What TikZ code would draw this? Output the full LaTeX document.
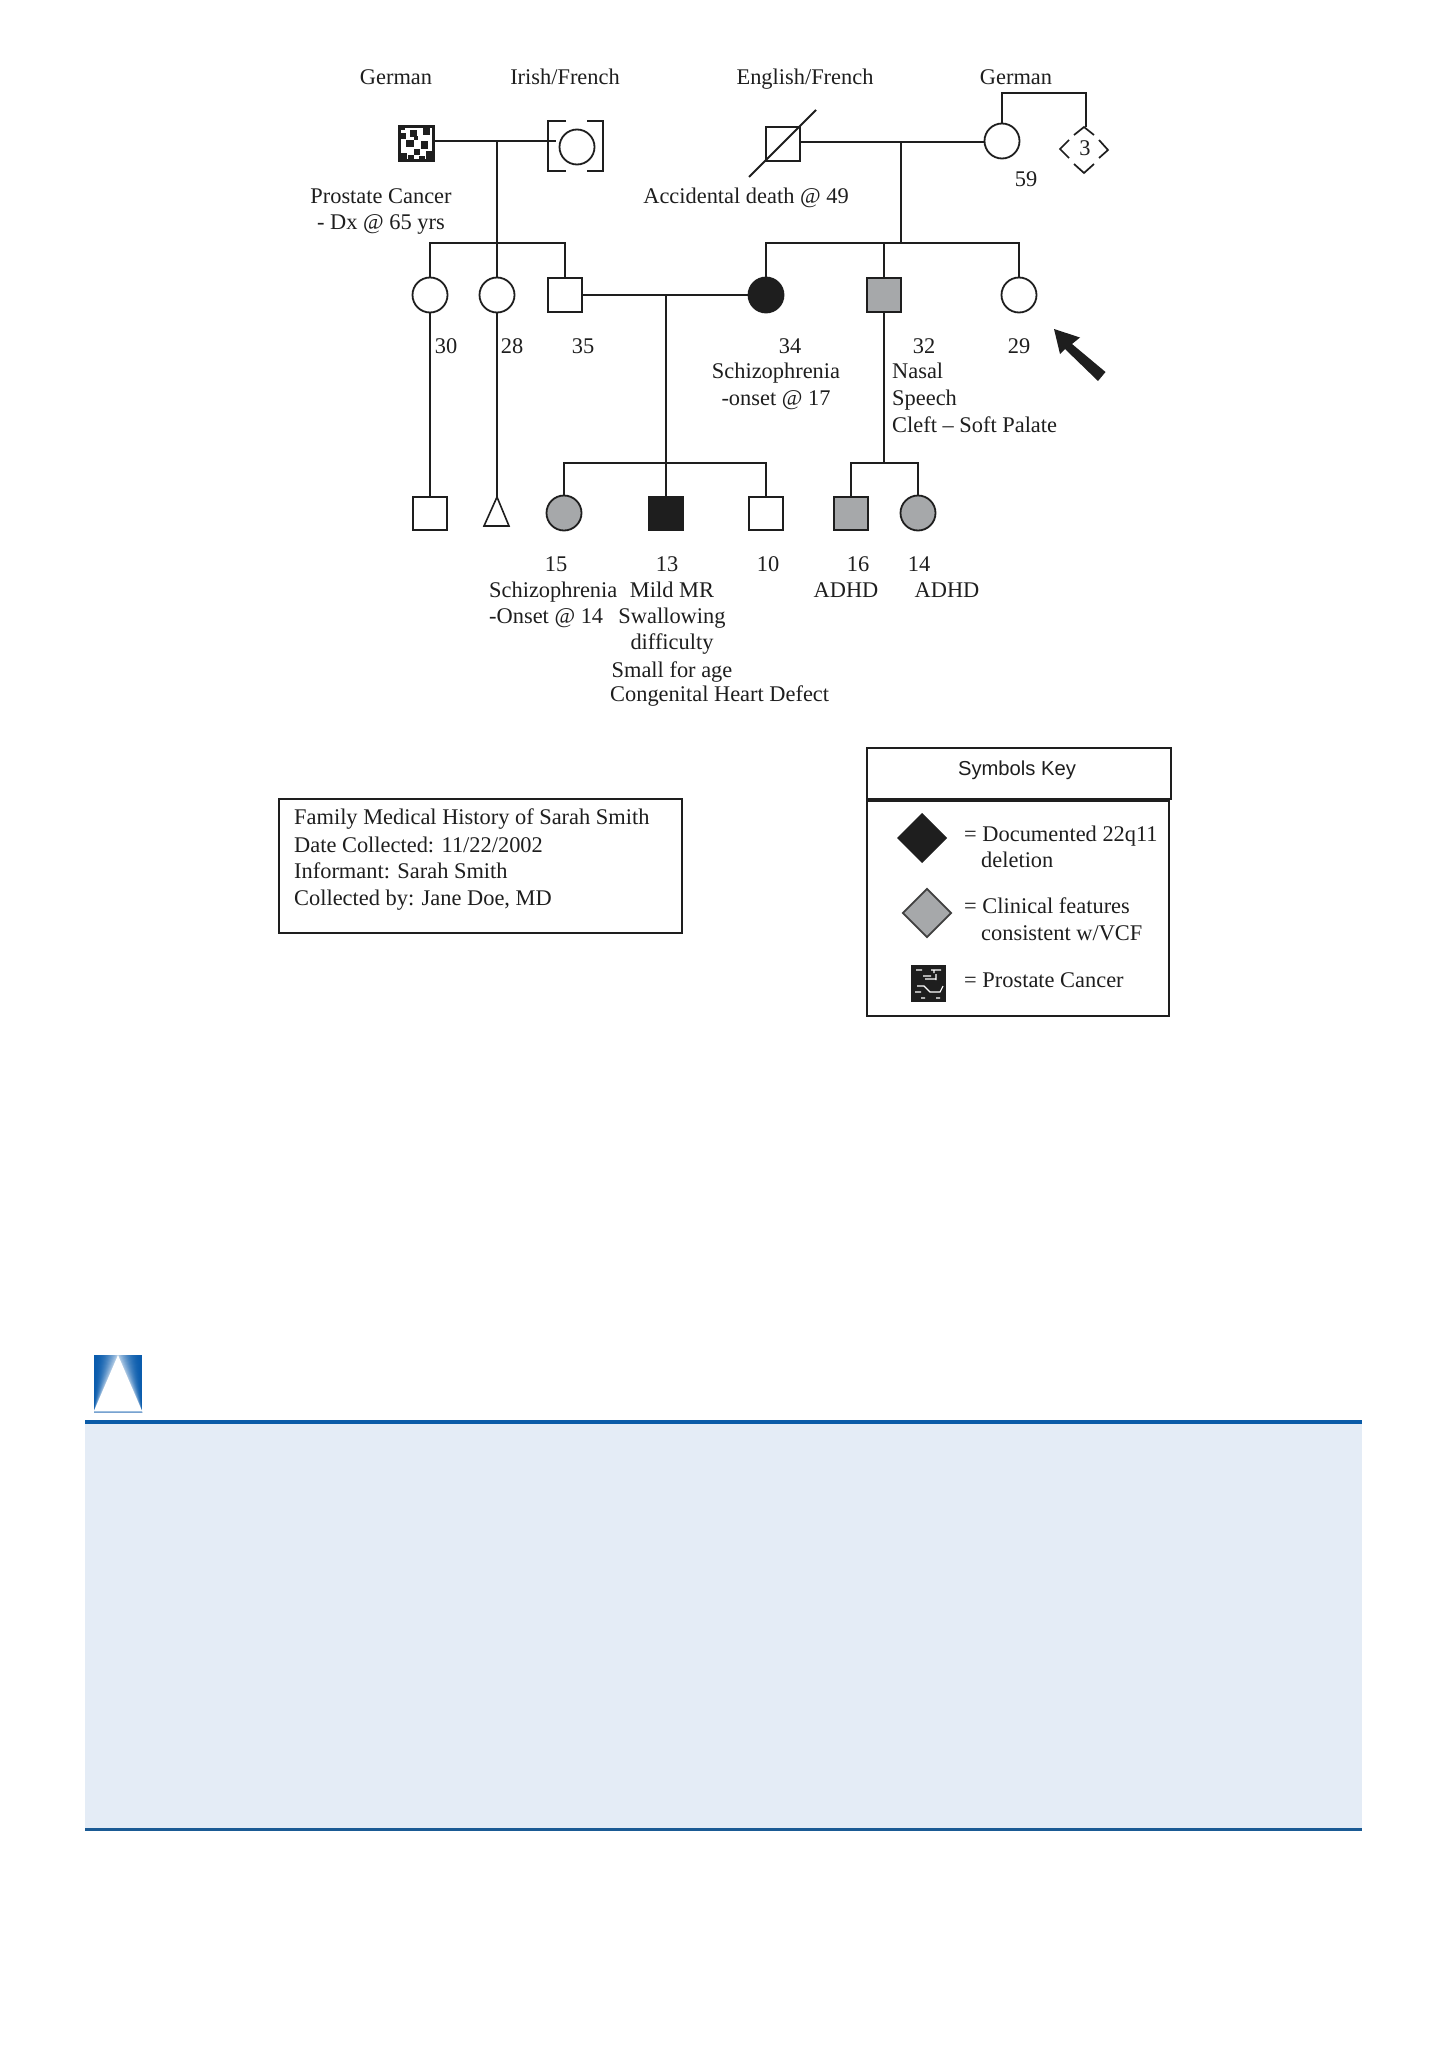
\documentclass[tikz,border=0pt]{standalone}
\usepackage{fontspec}
\setmainfont{Liberation Serif}
\setsansfont{Liberation Sans}
\definecolor{ink}{HTML}{1E1E1E}
\definecolor{midgray}{HTML}{A6A8AA}
\definecolor{panelfill}{HTML}{E4ECF6}
\definecolor{ruletop}{HTML}{0A5BA8}
\definecolor{rulebot}{HTML}{1A5A94}
\definecolor{iconblue}{HTML}{0A5CAD}
\usetikzlibrary{shapes.geometric}
\tikzset{
  lin/.style={draw=ink,line width=2.1pt},
  sq/.style={rectangle,draw=ink,fill=white,line width=2pt,minimum size=34pt,inner sep=0pt},
  circ/.style={circle,draw=ink,fill=white,line width=1.8pt,minimum size=35pt,inner sep=0pt},
  grayfill/.style={fill=midgray},
  blackfill/.style={fill=ink},
  txt/.style={inner sep=0pt,anchor=base,text=ink,font=\fontsize{22.4}{27}\selectfont},
  ltxt/.style={txt,anchor=base west},
  framebox/.style={draw=ink,line width=2.6pt,fill=white},
}
\begin{document}
\begin{tikzpicture}[x=1pt,y=-1pt]
\useasboundingbox (0,0) rectangle (1448,2050);
\fill[white] (0,0) rectangle (1448,2050);

% ---------- generation I nodes
\node[sq,line width=3pt] (gf1) at (416.5,143.5) {};
\foreach \a/\b/\c/\d in {11/4/18/11,24/2/31/9,1/7/7/13,7/14/15/21,22/15/29/23,15/23/21/29,1/27/8/33,27/25/34/33,9/29/15/33,20/30/26/33,15/10/19/14,1/1/6/4}{
  \fill[ink] (399+\a,126+\b) rectangle (399+\c,126+\d);
}
\node[circ] (gm1) at (577,147) {};
\draw[lin] (566,121) -- (548,121) -- (548,171) -- (566,171);
\draw[lin] (587,121) -- (603,121) -- (603,171) -- (587,171);
\node[sq] (gf2) at (783,144) {};
\node[circ] (gm2) at (1002,141) {};
\coordinate (slashA) at (749,177);
\coordinate (slashB) at (816,110);
\draw[lin] (slashA) -- (slashB);

% three siblings diamond
\node[txt] (dthree) at (1085,155) {3};
\draw[lin,line width=1.7pt] (1074,135) -- (1084,127) -- (1094,135);
\draw[lin,line width=1.7pt] (1069,140) -- (1060,149) -- (1069,158);
\draw[lin,line width=1.7pt] (1099,140) -- (1108,150) -- (1099,158);
\draw[lin,line width=1.7pt] (1074,164) -- (1084,173) -- (1094,164);
\coordinate (dtop) at (1086,127);
\coordinate (sibtopL) at (1002,93);
\coordinate (sibtopR) at (1086,93);
\draw[lin] (gm2.north) -- (sibtopL) -- (sibtopR) -- (dtop);

% ---------- generation II nodes
\node[circ] (a30) at (430,295) {};
\node[circ] (a28) at (497,295) {};
\node[sq] (a35) at (565,295) {};
\node[circ,blackfill] (a34) at (766,295) {};
\node[sq,grayfill,line width=2.8pt] (a32) at (884,295) {};
\node[circ] (a29) at (1019,295) {};

% ---------- generation III nodes
\node[sq,minimum width=34pt,minimum height=33pt] (c1) at (430,513.5) {};
\coordinate (c2) at (497,497);
\draw[ink,line width=1.6pt,line join=miter,fill=white] (c2) -- (509,526) -- (484,526) -- cycle;
\node[circ,grayfill] (c3) at (564,513) {};
\node[sq,blackfill,minimum width=34pt,minimum height=33pt] (c4) at (666,513.5) {};
\node[sq,minimum width=34pt,minimum height=33pt] (c5) at (766,513.5) {};
\node[sq,grayfill,minimum width=34pt,minimum height=33pt,line width=2.8pt] (c6) at (851,513.5) {};
\node[circ,grayfill] (c7) at (918,513) {};

% ---------- connectors
\coordinate (m1) at (497,140.7);
\coordinate (s1) at (497,243);
\coordinate (s1L) at (430,243);
\coordinate (s1R) at (565,243);
\coordinate (gm1L) at (556,140.7);
\draw[lin] (gf1.east |- m1) -- (m1) -- (gm1L);
\draw[lin] (m1) -- (s1);
\draw[lin,line cap=rect] (s1L) -- (s1R);
\draw[lin] (s1L) -- (a30.north);
\draw[lin] (s1) -- (a28.north);
\draw[lin] (s1R) -- (a35.north);

\coordinate (m2) at (901,142);
\coordinate (s2) at (901,243);
\coordinate (s2L) at (766,243);
\coordinate (s2M) at (884,243);
\coordinate (s2R) at (1019,243);
\draw[lin] (gf2.east |- m2) -- (m2) -- (gm2.west |- m2);
\draw[lin] (m2) -- (s2);
\draw[lin,line cap=rect] (s2L) -- (s2R);
\draw[lin] (s2L) -- (a34.north);
\draw[lin] (s2M) -- (a32.north);
\draw[lin] (s2R) -- (a29.north);

\draw[lin] (a30.south) -- (c1.north);
\draw[lin] (a28.south) -- (c2);

\coordinate (m3) at (666,295);
\coordinate (s3) at (666,463);
\coordinate (s3L) at (564,463);
\coordinate (s3R) at (766,463);
\draw[lin] (a35.east) -- (a34.west);
\draw[lin] (m3) -- (s3);
\draw[lin,line cap=rect] (s3L) -- (s3R);
\draw[lin] (s3L) -- (c3.north);
\draw[lin] (s3) -- (c4.north);
\draw[lin] (s3R) -- (c5.north);

\coordinate (s4) at (884,463);
\coordinate (s4L) at (851,463);
\coordinate (s4R) at (918,463);
\draw[lin] (a32.south) -- (s4);
\draw[lin,line cap=rect] (s4L) -- (s4R);
\draw[lin] (s4L) -- (c6.north);
\draw[lin] (s4R) -- (c7.north);

% proband arrow
\fill[ink] (1054,329) -- (1080,337.5) -- (1072,344) -- (1105.5,372) -- (1098,381) -- (1065,349) -- (1060,354) -- cycle;

% ---------- labels
\node[txt] (t1) at (396,84.5) {German};
\node[txt] (t2) at (565,84.5) {Irish/French};
\node[txt] (t3) at (805,84.5) {English/French};
\node[txt] (t4) at (1016,84.5) {German};
\node[txt] (t5) at (381,203) {Prostate Cancer};
\node[txt] (t6) at (381,229) {- Dx @ 65 yrs};
\node[txt] (t7) at (746,203) {Accidental death @ 49};
\node[txt] (t8) at (1026,186) {59};
\node[txt] (n30) at (446,353) {30};
\node[txt] (n28) at (512,353) {28};
\node[txt] (n35) at (583,353) {35};
\node[txt] (n34) at (790,353) {34};
\node[txt] (n32) at (924,353) {32};
\node[txt] (n29) at (1019,353) {29};
\node[txt] (t9) at (776,378) {Schizophrenia};
\node[txt] (t10) at (776,405) {-onset @ 17};
\node[ltxt] (t11) at (892,378) {Nasal};
\node[ltxt] (t12) at (892,405) {Speech};
\node[ltxt] (t13) at (892,432) {Cleft -- Soft Palate};
\node[txt] (n15) at (556,571) {15};
\node[txt] (n13) at (667,571) {13};
\node[txt] (n10) at (768,571) {10};
\node[txt] (n16) at (858,571) {16};
\node[txt] (n14) at (919,571) {14};
\node[ltxt] (t14) at (489,597) {Schizophrenia};
\node[ltxt] (t15) at (489,623) {-Onset @ 14};
\node[txt] (t16) at (672,597) {Mild MR};
\node[txt] (t17) at (672,623) {Swallowing};
\node[txt] (t18) at (672,649) {difficulty};
\node[txt] (t19) at (672,677) {Small for age};
\node[ltxt] (t20) at (610,701) {Congenital Heart Defect};
\node[txt] (t21) at (846,597) {ADHD};
\node[txt] (t22) at (947,597) {ADHD};

% ---------- info box
\draw[framebox] (279,799) rectangle (682,933);
\node[ltxt] (i1) at (294,824) {Family Medical History of Sarah Smith};
\node[ltxt] (i2) at (294,852) {Date Collected: 11/22/2002};
\node[ltxt] (i3) at (294,878) {Informant: Sarah Smith};
\node[ltxt] (i4) at (294,905) {Collected by: Jane Doe, MD};

% ---------- key
\draw[framebox] (867,801) rectangle (1169,1016);
\draw[framebox] (867,748) rectangle (1171,799);
\node[txt,font=\sffamily\fontsize{20.2}{24}\selectfont] (k0) at (1017,775) {Symbols Key};
\node[diamond,fill=ink,draw=ink,line width=1pt,minimum size=49pt,inner sep=0pt] (kd1) at (922,838) {};
\node[diamond,fill=midgray,draw=ink!85,line width=1.8pt,minimum size=49pt,inner sep=0pt] (kd2) at (927,913) {};
\node[rectangle,fill=ink,minimum width=35pt,minimum height=37pt,inner sep=0pt] (kd3) at (928.5,983.5) {};
\draw[white,line width=1.1pt] (916,970) -- (922,970) (931,970) -- (941,970) (934,970) -- (934,973)
  (923,976) -- (931,976) (936,974) -- (936,980) (925,979) -- (935,979)
  (917,986) -- (924,986) -- (930,992) -- (940,992) -- (943,986)
  (915,992) -- (921,992) (921,998) -- (925,998) (936,998) -- (940,998);
\node[ltxt] (k1) at (964,841) {= Documented 22q11};
\node[ltxt] (k2) at (981,867) {deletion};
\node[ltxt] (k3) at (964,913) {= Clinical features};
\node[ltxt] (k4) at (981,940) {consistent w/VCF};
\node[ltxt] (k5) at (964,987) {= Prostate Cancer};

% ---------- panel
\fill[panelfill] (85,1422) rectangle (1362,1829);
\fill[ruletop] (85,1420) rectangle (1362,1424);
\fill[rulebot] (85,1828) rectangle (1362,1831);

% ---------- icon
\begin{scope}
\clip (94,1355) rectangle (142,1412);
\fill[iconblue] (94,1355) rectangle (142,1412);
\foreach \i in {0,...,19}{
  \pgfmathsetmacro{\w}{24-\i*1.25}
  \pgfmathsetmacro{\p}{\i*\i*0.2}
  \fill[white!\p!iconblue] (118-\w,1355) -- (118+\w,1355) -- (142,1412) -- (94,1412) -- cycle;
}
\fill[white] (118,1355) -- (142,1411) -- (94,1411) -- cycle;
\fill[white!60!iconblue] (94,1411) rectangle (142,1412);
\end{scope}
\end{tikzpicture}
\end{document}
